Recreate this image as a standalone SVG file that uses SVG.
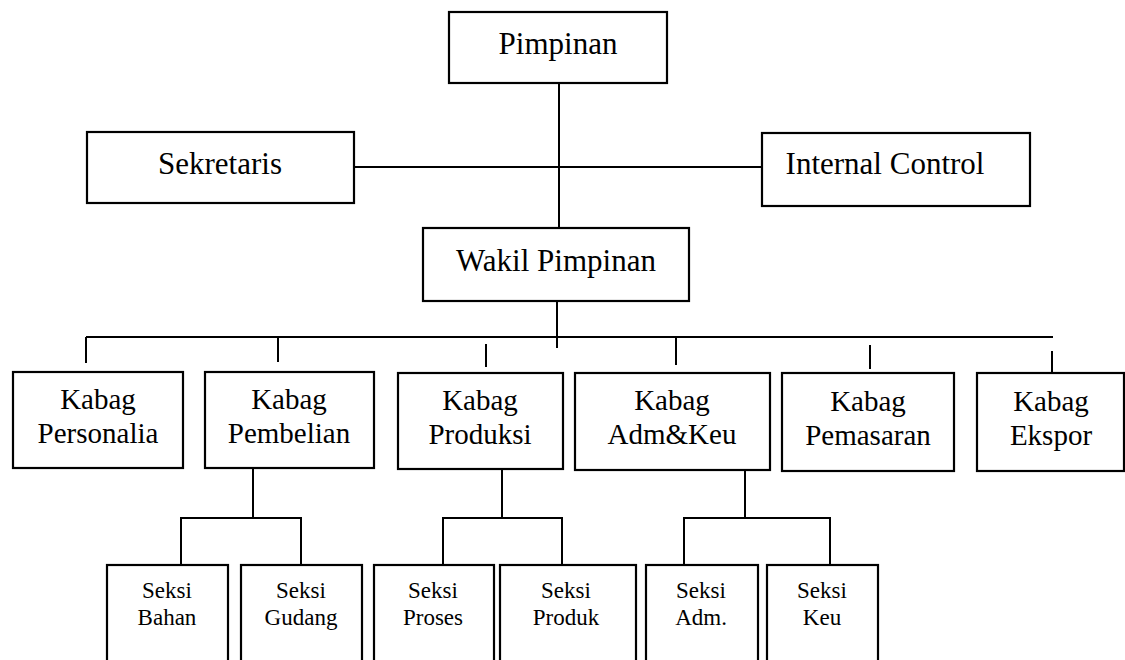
<svg xmlns="http://www.w3.org/2000/svg" width="1125" height="660" viewBox="0 0 1125 660">
<style>
.box{fill:#fff;stroke:#000;stroke-width:2.2}
.ln{stroke:#000;stroke-width:2;fill:none}
text{font-family:"Liberation Serif","Times New Roman",serif;fill:#000;text-anchor:middle}
.t1{font-size:31px}
.t2{font-size:29px}
.t3{font-size:23px}
</style>
<rect width="1125" height="660" fill="#fff"/>
<g id="connectors">
<line class="ln" x1="559" y1="83" x2="559" y2="228"/>
<line class="ln" x1="354" y1="167" x2="762" y2="167"/>
<line class="ln" x1="557" y1="301" x2="557" y2="348"/>
<line class="ln" x1="86" y1="337" x2="1053" y2="337"/>
<line class="ln" x1="86" y1="337" x2="86" y2="363"/>
<line class="ln" x1="278" y1="337" x2="278" y2="362"/>
<line class="ln" x1="486" y1="344" x2="486" y2="367"/>
<line class="ln" x1="676" y1="338" x2="676" y2="365"/>
<line class="ln" x1="870" y1="345" x2="870" y2="369"/>
<line class="ln" x1="1052" y1="351" x2="1052" y2="373"/>
<line class="ln" x1="253" y1="468" x2="253" y2="518"/>
<polyline class="ln" points="181,565 181,518 301,518 301,565"/>
<line class="ln" x1="502" y1="469" x2="502" y2="518"/>
<polyline class="ln" points="443,565 443,518 562,518 562,565"/>
<line class="ln" x1="745" y1="470" x2="745" y2="518"/>
<polyline class="ln" points="684,565 684,518 830,518 830,565"/>
</g>
<g id="pimpinan"><rect class="box" x="449" y="12" width="218" height="71"/><text class="t1" x="558" y="54">Pimpinan</text></g>
<g id="sekretaris"><rect class="box" x="87" y="132" width="267" height="71"/><text class="t1" x="220" y="174">Sekretaris</text></g>
<g id="internal-control"><rect class="box" x="762" y="133" width="268" height="73"/><text class="t1" x="885" y="174">Internal Control</text></g>
<g id="wakil-pimpinan"><rect class="box" x="423" y="228" width="266" height="73"/><text class="t1" x="556" y="271">Wakil Pimpinan</text></g>
<g id="kabag-personalia"><rect class="box" x="13" y="372" width="170" height="96"/><text class="t2" x="98" y="409">Kabag</text><text class="t2" x="98" y="443">Personalia</text></g>
<g id="kabag-pembelian"><rect class="box" x="205" y="372" width="169" height="96"/><text class="t2" x="289" y="409">Kabag</text><text class="t2" x="289" y="443">Pembelian</text></g>
<g id="kabag-produksi"><rect class="box" x="398" y="373" width="165" height="96"/><text class="t2" x="480" y="410">Kabag</text><text class="t2" x="480" y="444">Produksi</text></g>
<g id="kabag-admkeu"><rect class="box" x="575" y="373" width="195" height="97"/><text class="t2" x="672" y="410">Kabag</text><text class="t2" x="672" y="444">Adm&amp;Keu</text></g>
<g id="kabag-pemasaran"><rect class="box" x="782" y="373" width="172" height="98"/><text class="t2" x="868" y="411">Kabag</text><text class="t2" x="868" y="445">Pemasaran</text></g>
<g id="kabag-ekspor"><rect class="box" x="977" y="373" width="147" height="98"/><text class="t2" x="1051" y="411">Kabag</text><text class="t2" x="1051" y="445">Ekspor</text></g>
<g id="seksi-bahan"><rect class="box" x="107" y="565" width="121" height="100"/><text class="t3" x="167" y="598">Seksi</text><text class="t3" x="167" y="625">Bahan</text></g>
<g id="seksi-gudang"><rect class="box" x="241" y="565" width="121" height="100"/><text class="t3" x="301" y="598">Seksi</text><text class="t3" x="301" y="625">Gudang</text></g>
<g id="seksi-proses"><rect class="box" x="374" y="565" width="120" height="100"/><text class="t3" x="433" y="598">Seksi</text><text class="t3" x="433" y="625">Proses</text></g>
<g id="seksi-produk"><rect class="box" x="500" y="565" width="136" height="100"/><text class="t3" x="566" y="598">Seksi</text><text class="t3" x="566" y="625">Produk</text></g>
<g id="seksi-adm"><rect class="box" x="646" y="565" width="112" height="100"/><text class="t3" x="701" y="598">Seksi</text><text class="t3" x="701" y="625">Adm.</text></g>
<g id="seksi-keu"><rect class="box" x="767" y="565" width="111" height="100"/><text class="t3" x="822" y="598">Seksi</text><text class="t3" x="822" y="625">Keu</text></g>
</svg>
